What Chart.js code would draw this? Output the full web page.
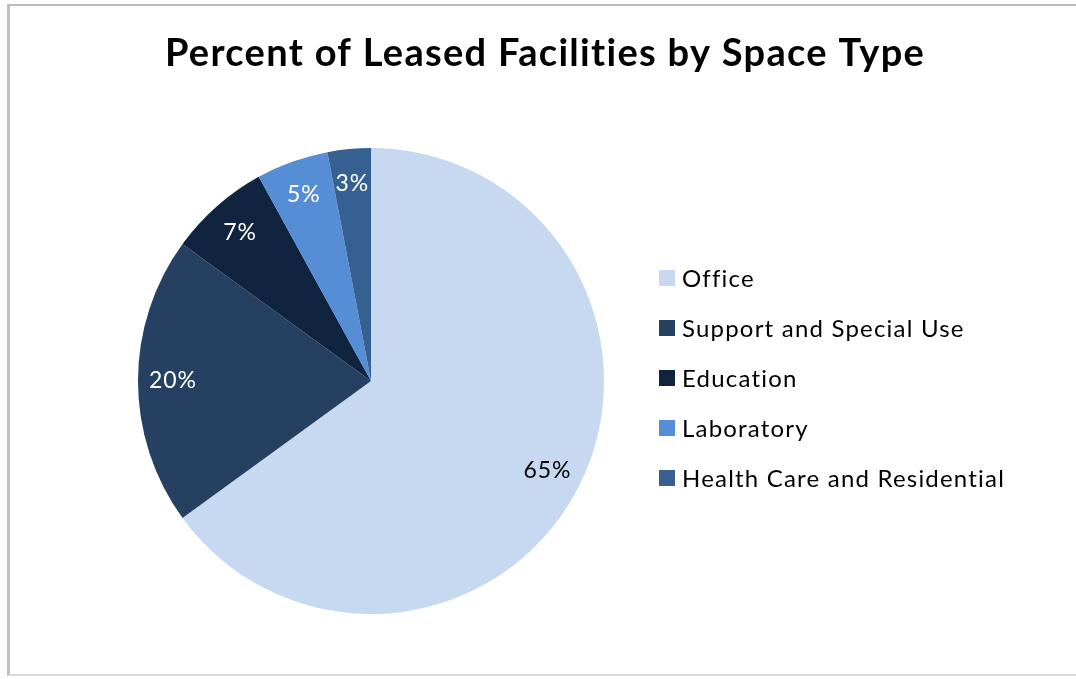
<!DOCTYPE html>
<html>
<head>
<meta charset="utf-8">
<script src="https://cdn.jsdelivr.net/npm/chart.js@4/dist/chart.umd.min.js"></script>
<style>
  html, body { margin: 0; padding: 0; background: #fff; }
  #wrap { position: relative; width: 1076px; height: 679px; }
  #frame { position: absolute; left: 7px; top: 4px; width: 1080px; height: 672px;
           border-left: 3px solid #c0c0c0; border-top: 2px solid #bcbcbc; border-bottom: 2px solid #d9d9d9; box-sizing: border-box; }
  canvas { position: absolute; left: 0; top: 0; }
</style>
</head>
<body>
<div id="wrap">
  <div id="frame"></div>
  <canvas id="c" width="1076" height="679"></canvas>
</div>
<script>
const titleText = "Percent of Leased Facilities by Space Type";
const categories = ["Office", "Support and Special Use", "Education", "Laboratory", "Health Care and Residential"];
const values = [65, 20, 7, 5, 3];
const colors = ["#C6D9F1", "#254061", "#10243F", "#558ED5", "#376092"];
const labelColors = ["#000000", "#ffffff", "#ffffff", "#ffffff", "#ffffff"];

const FONT = "Lato, 'Open Sans', sans-serif";

const overlay = {
  id: 'overlay',
  afterDraw(chart) {
    const ctx = chart.ctx;
    ctx.save();
    // title
    ctx.fillStyle = '#000';
    ctx.font = "bold 38px " + FONT;
    ctx.letterSpacing = '1.3px';
    ctx.textAlign = 'center';
    ctx.textBaseline = 'alphabetic';
    ctx.fillText(titleText, 545, 66);

    // slice labels
    const meta = chart.getDatasetMeta(0);
    ctx.font = "23px " + FONT;
    ctx.letterSpacing = '1px';
    ctx.textBaseline = 'middle';
    meta.data.forEach((arc, i) => {
      const p = arc.getProps(['x','y','startAngle','endAngle','outerRadius'], true);
      const mid = (p.startAngle + p.endAngle) / 2;
      const r = p.outerRadius * 0.85;
      ctx.fillStyle = labelColors[i];
      ctx.fillText(values[i] + '%', p.x + Math.cos(mid) * r, p.y + Math.sin(mid) * r);
    });

    // legend
    ctx.textAlign = 'left';
    ctx.font = "24px " + FONT;
    ctx.letterSpacing = '1.2px';
    categories.forEach((name, i) => {
      const y = 278 + i * 50;
      ctx.fillStyle = colors[i];
      ctx.fillRect(659, y - 8, 16, 16);
      ctx.fillStyle = '#000';
      ctx.fillText(name, 682, y + 1);
    });
    ctx.restore();
  }
};

new Chart(document.getElementById('c'), {
  type: 'pie',
  data: {
    labels: categories,
    datasets: [{
      data: values,
      backgroundColor: colors,
      borderWidth: 0
    }]
  },
  options: {
    responsive: false,
    animation: false,
    rotation: 0,
    layout: { padding: { left: 138, top: 148, right: 472, bottom: 65 } },
    plugins: {
      legend: { display: false },
      title: { display: false },
      tooltip: { enabled: false }
    }
  },
  plugins: [overlay]
});
</script>
</body>
</html>
